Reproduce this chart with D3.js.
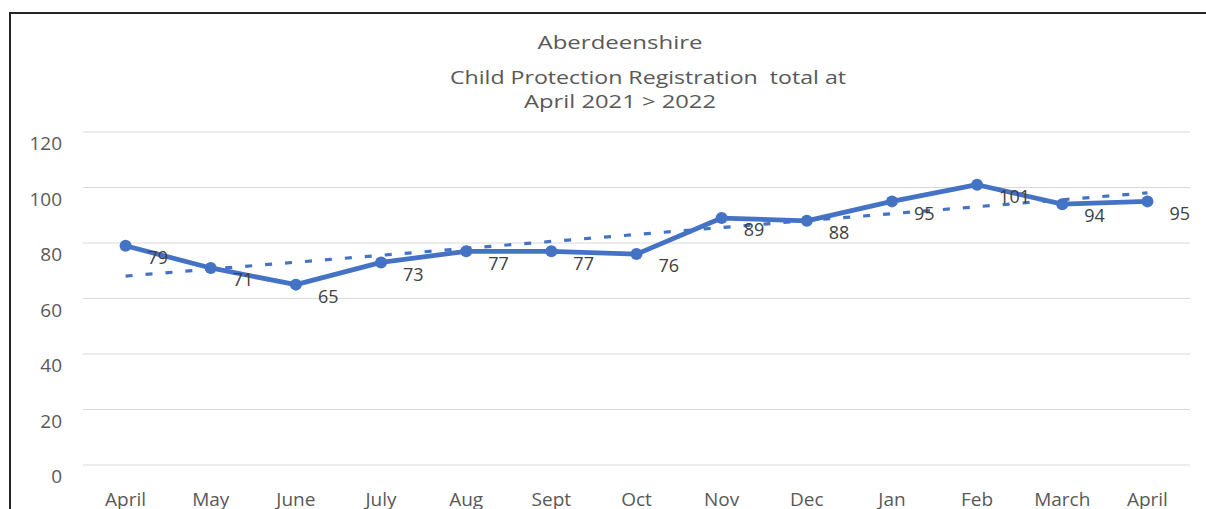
<!DOCTYPE html>
<html>
<head>
<meta charset="utf-8">
<script src="https://cdn.jsdelivr.net/npm/d3@7"></script>
<style>
  html, body { margin: 0; padding: 0; background: #fff; overflow: hidden; }
  svg { display: block; font-family: "Open Sans", Lato, sans-serif; }
</style>
</head>
<body>
<svg id="chart" width="1206" height="509"></svg>
<script>
// Monthly child protection registration totals, April 2021 to April 2022
const months = ["April", "May", "June", "July", "Aug", "Sept", "Oct", "Nov", "Dec", "Jan", "Feb", "March", "April"];
const totals = [79, 71, 65, 73, 77, 77, 76, 89, 88, 95, 101, 94, 95];
const yTicks = [0, 20, 40, 60, 80, 100, 120];
const titleLines = ["Aberdeenshire", "Child Protection Registration  total at", "April 2021 > 2022"];

const svg = d3.select("#chart");
const W = 1206, H = 509;
const plot = { left: 83, right: 1190, top: 132, bottom: 465 };
const FONT = "'Open Sans', Lato, sans-serif";

// Frame around the chart area
svg.append("rect")
  .attr("x", 10).attr("y", 13)
  .attr("width", W + 20).attr("height", H + 20)
  .attr("fill", "none").attr("stroke", "#262626").attr("stroke-width", 2);

const data = months.map((m, i) => ({ key: i, label: m, value: totals[i] }));

const x = d3.scaleBand()
  .domain(data.map(d => d.key))
  .range([plot.left, plot.right])
  .paddingInner(0).paddingOuter(0);
const cx = k => x(k) + x.bandwidth() / 2;

const y = d3.scaleLinear().domain([0, 120]).range([plot.bottom, plot.top]);

// Horizontal gridlines
svg.append("g")
  .selectAll("line")
  .data(yTicks)
  .join("line")
  .attr("x1", plot.left).attr("x2", plot.right)
  .attr("y1", d => y(d)).attr("y2", d => y(d))
  .attr("stroke", "#d9d9d9").attr("stroke-width", 1.2);

// Value axis labels
const yAxis = d3.axisLeft(y).tickValues(yTicks).tickSize(0).tickPadding(0);
const yg = svg.append("g").attr("transform", "translate(62,0)").call(yAxis);
yg.select(".domain").remove();
yg.selectAll("text")
  .attr("dy", "0.35em")
  .attr("transform", "translate(0,11)")
  .attr("fill", "#595959")
  .style("font-size", "19px")
  .style("font-family", FONT);

// Category axis labels
const xAxis = d3.axisBottom(x).tickFormat(k => months[k]).tickSize(0).tickPadding(0);
const xg = svg.append("g").attr("transform", "translate(0,492)").call(xAxis);
xg.select(".domain").remove();
xg.selectAll("text")
  .attr("dy", 0)
  .attr("y", 14)
  .attr("fill", "#595959")
  .style("font-size", "19px")
  .style("font-family", FONT);

// Linear trendline (least squares fit)
const n = totals.length;
const mx = d3.mean(data, d => d.key), my = d3.mean(totals);
const slope = d3.sum(data, d => (d.key - mx) * (d.value - my)) / d3.sum(data, d => (d.key - mx) ** 2);
const intercept = my - slope * mx;
const trend = [0, n - 1].map(k => ({ key: k, value: intercept + slope * k }));

svg.append("path")
  .datum(trend)
  .attr("d", d3.line().x(d => cx(d.key)).y(d => y(d.value)))
  .attr("fill", "none")
  .attr("stroke", "#4472c4")
  .attr("stroke-width", 3.2)
  .attr("stroke-dasharray", "7,13");

// Series line
svg.append("path")
  .datum(data)
  .attr("d", d3.line().x(d => cx(d.key)).y(d => y(d.value)))
  .attr("fill", "none")
  .attr("stroke", "#4472c4")
  .attr("stroke-width", 4.8)
  .attr("stroke-linejoin", "round");

// Markers
svg.append("g")
  .selectAll("circle")
  .data(data)
  .join("circle")
  .attr("cx", d => cx(d.key))
  .attr("cy", d => y(d.value))
  .attr("r", 6)
  .attr("fill", "#4472c4");

// Data labels
svg.append("g")
  .selectAll("text")
  .data(data)
  .join("text")
  .attr("x", d => cx(d.key) + 22)
  .attr("y", d => y(d.value) + 12)
  .attr("dy", "0.35em")
  .attr("fill", "#404040")
  .style("font-size", "18px")
  .text(d => d.value);

// Title, three centred lines
const titleY = [42, 77, 101];
const titleX = [620, 648, 620];
const titleW = [165, 396, 192];
svg.append("g")
  .selectAll("text")
  .data(titleLines)
  .join("text")
  .attr("x", (d, i) => titleX[i])
  .attr("y", (d, i) => titleY[i])
  .attr("dy", "0.35em")
  .attr("text-anchor", "middle")
  .attr("fill", "#595959")
  .attr("textLength", (d, i) => titleW[i])
  .attr("lengthAdjust", "spacingAndGlyphs")
  .style("font-size", "19px")
  .style("white-space", "pre")
  .text(d => d);
</script>
</body>
</html>
